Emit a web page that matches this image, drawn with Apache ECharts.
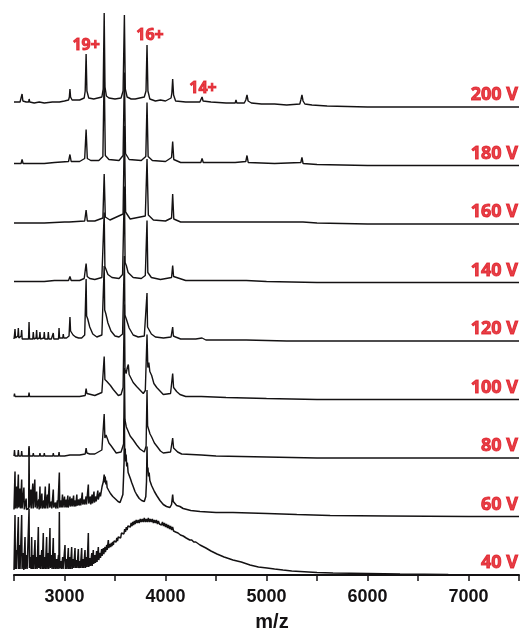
<!DOCTYPE html>
<html>
<head>
<meta charset="utf-8">
<script src="https://cdn.jsdelivr.net/npm/echarts@6/dist/echarts.min.js"></script>
<style>
  html, body { margin: 0; padding: 0; background: #ffffff; }
  #chart { width: 522px; height: 632px; }
</style>
</head>
<body>
<div id="chart"></div>
<script>
// Cone-voltage series of native mass spectra, stacked bottom (40 V) to top (200 V).
// Each spectrum: [m/z, relative intensity] points.
const voltages = ['40 V', '60 V', '80 V', '100 V', '120 V', '140 V', '160 V', '180 V', '200 V'];
const xTicks = [3000, 4000, 5000, 6000, 7000];

const spec40 = [[2500,5],[2506,5],[2510,60],[2514,6],[2518,5],[2522,25],[2526,6],[2532,5],[2538,6],[2543,58],[2547,6],[2552,6],[2556,30],[2560,6],[2565,5],[2571,6],[2576,60],[2580,6],[2588,5],[2593,22],[2597,5],[2604,6],[2609,38],[2613,6],[2620,5],[2626,20],[2630,6],[2638,5],[2644,7],[2649,66],[2653,7],[2660,6],[2665,18],[2669,6],[2672,6],[2675,38],[2679,6],[2686,6],[2690,20],[2694,6],[2700,6],[2708,35],[2712,6],[2720,6],[2725,18],[2729,6],[2736,6],[2741,48],[2745,7],[2752,6],[2757,20],[2761,6],[2770,6],[2775,25],[2779,6],[2786,6],[2790,42],[2794,6],[2802,6],[2807,18],[2811,6],[2818,6],[2823,38],[2827,6],[2835,6],[2840,22],[2844,6],[2851,6],[2856,47],[2860,7],[2868,6],[2873,20],[2877,6],[2884,6],[2889,37],[2893,6],[2900,6],[2906,22],[2910,6],[2918,6],[2923,16],[2927,6],[2935,6],[2940,20],[2944,6],[2949,63],[2953,7],[2960,6],[2965,14],[2969,6],[2976,6],[2982,18],[2986,6],[3000,6],[3005,30],[3009,6],[3016,6],[3021,16],[3025,6],[3033,6],[3038,27],[3042,6],[3050,6],[3054,18],[3058,6],[3066,6],[3071,28],[3075,6],[3082,7],[3087,16],[3091,7],[3099,7],[3104,27],[3108,7],[3115,7],[3120,15],[3124,7],[3132,7],[3137,26],[3141,7],[3148,7],[3153,14],[3157,7],[3165,7],[3170,27],[3174,7],[3181,7],[3186,16],[3190,7],[3198,7],[3203,25],[3207,7],[3214,8],[3220,18],[3224,8],[3231,8],[3236,42],[3240,8],[3248,8],[3253,17],[3257,9],[3265,9],[3270,22],[3274,9],[3280,10],[3285,25],[3289,11],[3297,11],[3302,20],[3306,12],[3313,12],[3318,24],[3322,13],[3330,14],[3335,28],[3339,15],[3347,16],[3352,22],[3356,17],[3363,18],[3368,26],[3372,19],[3380,20],[3385,27],[3389,21],[3396,22],[3401,28],[3405,23],[3413,24],[3418,30],[3422,25],[3429,26],[3434,35],[3438,27],[3446,27],[3451,31],[3457,28],[3464,32],[3470,29],[3477,33],[3484,30],[3490,34],[3497,32],[3504,36],[3511,33],[3518,37],[3525,34],[3532,38],[3540,36],[3548,40],[3556,37],[3564,42],[3572,40],[3580,44],[3588,41],[3596,46],[3604,43],[3612,48],[3620,45],[3628,49],[3636,47],[3644,51],[3652,48],[3660,52],[3668,49],[3676,53],[3684,50],[3692,54],[3700,51],[3710,55],[3720,52],[3730,55],[3740,52],[3750,56],[3760,53],[3770,56],[3780,53],[3790,57],[3800,53],[3810,56],[3820,53],[3830,57],[3840,53],[3850,56],[3860,53],[3870,56],[3880,52],[3890,55],[3900,52],[3910,55],[3920,51],[3930,54],[3940,51],[3950,53],[3960,50],[3970,53],[3980,49],[3990,52],[4000,48],[4010,51],[4020,47],[4030,50],[4040,46],[4050,49],[4060,45],[4070,48],[4080,44],[4090,46],[4100,43],[4112,45],[4124,42],[4136,44],[4148,40],[4160,42],[4175,39],[4190,40],[4205,37],[4220,38],[4240,35],[4260,35],[4280,33],[4300,33],[4342,30],[4400,27],[4450,24],[4510,21],[4580,18],[4668,15],[4750,13],[4837,10],[4920,8],[5005,7],[5080,6],[5163,5],[5250,4],[5332,3.5],[5500,2.5],[5658,2],[6000,1.5],[6322,1],[6800,0.5],[7200,0.3],[7500,0.2]];

const spec60 = [[2500,7],[2506,7],[2510,45],[2514,8],[2522,7],[2527,30],[2531,8],[2538,7],[2543,42],[2547,9],[2555,7],[2560,28],[2564,8],[2571,7],[2576,37],[2580,8],[2590,7],[2598,29],[2602,7],[2615,8],[2620,18],[2624,7],[2640,7],[2645,8],[2649,69],[2653,9],[2662,7],[2667,27],[2671,8],[2680,7],[2686,33],[2690,8],[2700,7],[2706,37],[2710,9],[2718,7],[2724,25],[2728,8],[2740,8],[2745,17],[2749,7],[2753,8],[2757,30],[2761,8],[2770,7],[2776,23],[2780,8],[2790,8],[2795,16],[2799,8],[2805,8],[2810,30],[2814,8],[2825,8],[2830,22],[2834,8],[2843,8],[2849,33],[2853,9],[2865,8],[2870,15],[2874,8],[2883,8],[2889,27],[2893,9],[2905,8],[2910,14],[2914,8],[2925,8],[2930,16],[2934,8],[2945,8],[2949,44],[2953,9],[2962,8],[2967,16],[2971,9],[2976,9],[2980,22],[2984,9],[2994,9],[3000,20],[3004,9],[3012,9],[3017,17],[3021,9],[3028,9],[3033,21],[3037,9],[3045,9],[3050,16],[3054,20],[3058,10],[3067,10],[3072,18],[3076,10],[3085,10],[3090,21],[3094,10],[3102,10],[3107,16],[3111,10],[3117,10],[3122,22],[3126,11],[3135,11],[3140,17],[3144,11],[3152,11],[3157,18],[3161,11],[3170,11],[3176,24],[3180,12],[3190,12],[3195,17],[3199,12],[3210,12],[3214,20],[3218,12],[3228,12],[3236,32],[3240,13],[3250,12],[3256,20],[3260,12],[3268,12],[3273,22],[3277,13],[3285,13],[3292,25],[3296,14],[3305,14],[3310,20],[3314,15],[3322,16],[3330,26],[3334,17],[3345,18],[3352,24],[3356,20],[3365,22],[3372,30],[3378,28],[3385,35],[3393,42],[3398,34],[3403,40],[3410,32],[3416,36],[3422,29],[3430,31],[3438,26],[3446,28],[3455,23],[3465,24],[3478,20],[3490,21],[3510,17],[3530,15],[3550,14],[3565,15],[3578,22],[3585,40],[3590,55],[3593,98],[3596,60],[3601,68],[3606,55],[3610,62],[3616,50],[3622,54],[3630,44],[3640,42],[3652,38],[3665,34],[3680,30],[3698,25],[3714,22],[3740,18],[3764,16],[3790,15],[3805,20],[3812,35],[3817,70],[3821,45],[3826,49],[3832,40],[3838,44],[3845,36],[3852,38],[3862,31],[3875,30],[3890,25],[3913,21],[3945,16],[3978,12],[4010,10],[4044,9],[4060,12],[4071,22],[4077,15],[4090,13],[4110,11],[4143,10],[4175,8],[4250,6],[4342,5],[4500,4],[4668,4],[5005,3],[5300,2],[5630,1],[6200,0.5],[7000,0],[7500,0]];

const spec80 = [[2500,2],[2505,8],[2510,2],[2538,2],[2543,8],[2548,2],[2571,2],[2576,7],[2581,2],[2644,2],[2649,12],[2654,2],[2686,2],[2691,5],[2696,2],[2752,2],[2757,5],[2762,2],[2795,2],[2800,5],[2805,2],[2840,2],[2845,4],[2850,2],[2884,2],[2889,5],[2894,2],[2941,2],[2946,6],[2951,2],[3000,2],[3054,3],[3150,3],[3205,4],[3214,10],[3222,5],[3250,4],[3300,4],[3370,8],[3393,44],[3400,20],[3411,23],[3422,21],[3440,15],[3463,12],[3512,5],[3560,6],[3585,14],[3593,90],[3599,38],[3612,31],[3625,28],[3650,22],[3681,18],[3715,13],[3747,9],[3790,6],[3808,12],[3817,68],[3823,32],[3835,28],[3847,24],[3863,21],[3890,15],[3913,12],[3950,7],[3978,5],[4050,6],[4071,20],[4080,10],[4094,9],[4120,6],[4160,4],[4355,3],[4362,4],[4370,3],[4500,2],[5000,1],[5500,0],[7500,0]];

const spec100 = [[2500,3],[2505,6],[2510,3],[2538,3],[2543,5],[2548,3],[2571,3],[2576,5],[2581,3],[2644,3],[2649,7],[2654,3],[2700,3],[2705,5],[2710,3],[2760,3],[2765,4],[2770,3],[2820,3],[2825,4],[2830,3],[2880,3],[2885,4],[2890,3],[2941,3],[2946,5],[2951,3],[3000,3],[3048,3],[3054,5],[3060,3],[3150,3],[3205,4],[3214,11],[3222,6],[3240,4],[3300,4],[3370,7],[3393,43],[3400,20],[3411,22],[3420,18],[3434,20],[3455,14],[3483,10],[3533,4],[3560,5],[3580,12],[3593,95],[3599,30],[3610,26],[3622,32],[3632,35],[3640,25],[3655,23],[3680,17],[3714,13],[3780,6],[3800,9],[3817,65],[3825,32],[3835,37],[3845,28],[3863,24],[3885,16],[3913,12],[3978,5],[4050,6],[4071,26],[4080,12],[4094,10],[4110,8],[4143,5],[4200,3],[4355,3],[4362,4],[4370,3],[4600,2],[5000,1],[5500,0],[7500,0]];

const spec120 = [[2500,2],[2505,6],[2510,12],[2515,3],[2525,2],[2538,5],[2543,13],[2548,3],[2560,2],[2571,5],[2576,11],[2581,2],[2600,3],[2620,2],[2644,2],[2649,19],[2654,2],[2670,2],[2686,2],[2691,9],[2696,2],[2710,2],[2719,3],[2724,11],[2729,2],[2745,2],[2752,3],[2757,9],[2762,2],[2780,2],[2795,3],[2800,9],[2805,2],[2820,2],[2835,2],[2840,9],[2845,2],[2870,2],[2884,2],[2889,8],[2894,2],[2920,2],[2941,2],[2946,13],[2951,3],[2970,3],[2983,3],[2988,7],[2993,3],[3020,3],[3045,5],[3054,24],[3060,10],[3070,9],[3085,6],[3110,4],[3140,3],[3170,3],[3200,6],[3214,62],[3219,25],[3230,22],[3250,14],[3280,7],[3320,4],[3370,6],[3393,75],[3398,31],[3410,27],[3430,18],[3460,10],[3500,5],[3540,4],[3575,7],[3593,85],[3598,26],[3612,22],[3640,13],[3680,6],[3730,4],[3790,5],[3817,48],[3822,14],[3835,12],[3860,7],[3900,4],[3980,3],[4055,4],[4071,14],[4078,5],[4100,4],[4150,2],[4300,2],[4362,3],[4400,1],[4800,1],[5200,0],[7500,0]];

const spec140 = [[2500,1],[2640,1],[2650,3],[2660,1],[2800,1],[2900,2],[3040,2],[3054,6],[3066,2],[3150,2],[3195,4],[3214,19],[3225,6],[3250,4],[3300,3],[3370,5],[3393,70],[3400,16],[3412,14],[3430,8],[3470,5],[3540,4],[3575,8],[3593,96],[3600,20],[3612,17],[3630,10],[3680,5],[3760,4],[3800,7],[3817,62],[3825,10],[3838,8],[3860,5],[3950,3],[4060,5],[4071,17],[4080,6],[4095,4],[4200,2],[4355,2],[4362,3],[4370,2],[4800,2],[4807,2],[5000,1],[5500,0],[7500,0]];

const spec160 = [[2500,1],[2572,1],[2580,3],[2590,1],[2800,1],[3000,2],[3046,2],[3054,4],[3065,2],[3200,3],[3214,14],[3226,3],[3300,3],[3380,6],[3393,50],[3404,7],[3450,4],[3580,10],[3593,98],[3605,12],[3650,5],[3800,8],[3817,65],[3830,9],[3880,4],[4000,3],[4060,6],[4071,30],[4082,5],[4150,2],[4352,2],[4362,4],[4372,2],[4797,2],[4807,4],[4817,2],[5341,2],[5351,4],[5361,2],[5500,1],[6000,0],[7500,0]];

const spec180 = [[2500,2],[2570,2],[2580,6],[2590,2],[2650,2],[2656,4],[2662,2],[2800,2],[2900,3],[3040,4],[3054,11],[3066,4],[3150,4],[3200,7],[3214,36],[3226,7],[3260,5],[3340,5],[3380,9],[3393,95],[3404,10],[3440,6],[3540,5],[3580,10],[3593,93],[3604,12],[3640,6],[3760,5],[3805,9],[3817,63],[3828,9],[3870,5],[4000,4],[4060,8],[4071,24],[4082,6],[4150,3],[4350,3],[4362,7],[4374,3],[4690,3],[4698,4],[4706,3],[4795,4],[4807,10],[4819,3],[5080,2],[5089,3],[5098,2],[5340,3],[5351,8],[5362,2],[5500,1],[6000,0],[7500,0]];

const spec200 = [[2500,5],[2560,5],[2572,6],[2580,13],[2588,6],[2620,5],[2645,5],[2650,8],[2656,5],[2700,4],[2750,5],[2800,4],[2880,5],[2886,7],[2892,5],[2950,5],[3000,6],[3040,7],[3048,10],[3054,18],[3060,10],[3075,7],[3150,7],[3195,9],[3205,16],[3214,53],[3222,16],[3240,9],[3290,8],[3370,10],[3383,18],[3393,94],[3401,20],[3415,11],[3440,9],[3500,8],[3560,9],[3580,16],[3593,92],[3602,18],[3620,10],[3660,8],[3700,8],[3790,10],[3807,16],[3817,62],[3826,16],[3845,8],[3900,6],[3950,7],[4000,6],[4055,9],[4063,14],[4071,28],[4080,12],[4100,6],[4200,5],[4340,5],[4350,7],[4362,10],[4372,6],[4450,5],[4600,4],[4690,4],[4698,7],[4706,4],[4780,4],[4795,7],[4807,12],[4818,6],[4850,4],[4950,3],[5080,3],[5089,5],[5098,3],[5200,2],[5330,3],[5340,7],[5351,12],[5362,6],[5380,3],[5450,2],[5600,1],[5800,0.5],[6000,0],[7500,0]];

const spectra = [spec40, spec60, spec80, spec100, spec120, spec140, spec160, spec180, spec200];

// Charge-state annotations on the top (200 V) spectrum
const chargeLabels = ['19+', '16+', '14+'];
const chargeLabelMz = [3214, 3847, 4371];
const chargeLabelLift = [62, 72, 19];

const traceStep = 58.5;          // vertical offset between stacked spectra
const voltageLabelLift = 12;     // voltage tag sits just above its baseline
const ink = '#141213';
const red = '#e0121b';

const chart = echarts.init(document.getElementById('chart'), null, { renderer: 'canvas' });

const lineSeries = spectra.map((spec, i) => ({
  type: 'line',
  name: voltages[i],
  data: spec.map(p => [p[0], i * traceStep + p[1]]),
  showSymbol: false,
  symbol: 'none',
  smooth: false,
  silent: true,
  clip: true,
  lineStyle: { color: ink, width: i < 2 ? 1.5 : 1.4 },
  z: 2
}));

const redText = {
  color: red,
  fontFamily: '"Open Sans", "Noto Sans", sans-serif',
  fontWeight: 'bold',
  textBorderColor: red,
  textBorderWidth: 0.9
};

const voltageSeries = {
  type: 'scatter',
  symbolSize: 0,
  silent: true,
  data: voltages.map((v, i) => ({ name: v, value: [7490, i * traceStep + voltageLabelLift] })),
  label: Object.assign({ show: true, position: 'left', distance: 0, formatter: '{b}', fontSize: 18 }, redText),
  z: 5
};

const topIndex = spectra.length - 1;
const chargeSeries = {
  type: 'scatter',
  symbolSize: 0,
  silent: true,
  data: chargeLabels.map((c, k) => ({ name: c, value: [chargeLabelMz[k], topIndex * traceStep + chargeLabelLift[k]] })),
  label: Object.assign({ show: true, position: 'inside', formatter: '{b}', fontSize: 16 }, redText),
  z: 5
};

chart.setOption({
  animation: false,
  backgroundColor: '#ffffff',
  grid: { left: 14, right: 3, top: 0, bottom: 57, containLabel: false },
  xAxis: {
    type: 'value',
    min: 2500,
    max: 7500,
    interval: 500,
    axisLine: { show: true, onZero: false, lineStyle: { color: ink, width: 2 } },
    axisTick: { show: true, inside: false, length: 6, lineStyle: { color: ink, width: 1.5 } },
    splitLine: { show: false },
    axisLabel: {
      color: ink,
      fontFamily: '"Liberation Sans", Arial, sans-serif',
      fontWeight: 'bold',
      fontSize: 18,
      margin: 13,
      formatter: v => (xTicks.indexOf(v) >= 0 ? String(v) : '')
    }
  },
  yAxis: {
    type: 'value',
    min: 0,
    max: 575,
    show: false,
    splitLine: { show: false }
  },
  graphic: [{
    type: 'text',
    x: 272,
    y: 622,
    style: {
      text: 'm/z',
      font: 'bold 20px "Liberation Sans", Arial, sans-serif',
      fill: ink,
      align: 'center',
      verticalAlign: 'middle'
    }
  }],
  series: lineSeries.concat([voltageSeries, chargeSeries])
});
</script>
</body>
</html>
